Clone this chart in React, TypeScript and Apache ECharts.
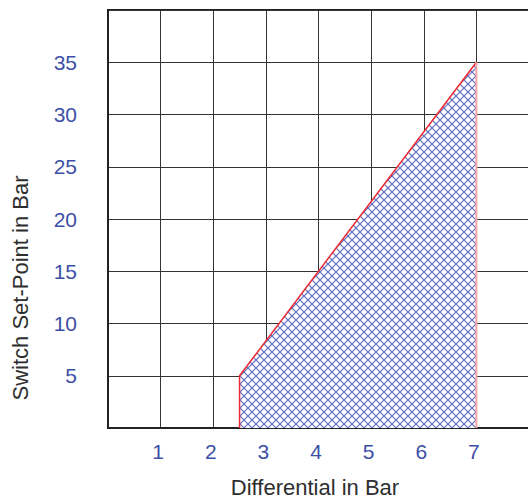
import React, { useEffect, useRef } from "react";
import * as echarts from "echarts";

const xTicks = [1, 2, 3, 4, 5, 6, 7];
const yTicks = [5, 10, 15, 20, 25, 30, 35];
const regionFill: number[][] = [[2.5, 0], [2.5, 5], [7, 35], [7, 0]];
const regionEdge: number[][] = [[2.5, 0], [2.5, 5], [7, 35]];
const regionRightEdge: number[][] = [[7, 35], [7, 0]];

const FONT = "'Liberation Sans', Arial, sans-serif";
const LABEL_BLUE = "#3d4fa6";
const TITLE_GRAY = "#2e2e2e";

function makeHatch(): string {
  const s = 8;
  const c = document.createElement("canvas");
  c.width = s;
  c.height = s;
  const ctx = c.getContext("2d")!;
  ctx.fillStyle = "#ffffff";
  ctx.fillRect(0, 0, s, s);
  ctx.strokeStyle = "rgba(62,82,178,0.85)";
  ctx.lineWidth = 1.2;
  ctx.beginPath();
  ctx.moveTo(-1, -1);
  ctx.lineTo(s + 1, s + 1);
  ctx.moveTo(-1, s + 1);
  ctx.lineTo(s + 1, -1);
  ctx.stroke();
  return c.toDataURL();
}

export default function App() {
  const ref = useRef<HTMLDivElement>(null);
  useEffect(() => {
    if (!ref.current) return;
    const chart = echarts.init(ref.current, undefined, { renderer: "svg" });
    const hatch = makeHatch();
    chart.setOption({
      animation: false,
      grid: {
        left: 108,
        top: 10,
        width: 421,
        height: 418,
        outerBoundsMode: "none",
        containLabel: false,
        show: true,
        borderColor: "#222",
        borderWidth: 2,
        backgroundColor: "transparent",
      },
      xAxis: {
        type: "value",
        min: 0,
        max: 8,
        interval: 1,
        axisLine: { show: true, onZero: false, lineStyle: { color: "#222", width: 2 } },
        axisTick: { show: false },
        splitLine: { show: true, lineStyle: { color: "#333", width: 1 } },
        axisLabel: {
          margin: 13,
          color: LABEL_BLUE,
          fontSize: 21,
          fontFamily: FONT,
          padding: [0, 5, 0, 0],
          formatter: (v: number) => (xTicks.includes(v) ? String(v) : ""),
        },
      },
      yAxis: {
        type: "value",
        min: 0,
        max: 40,
        interval: 5,
        axisLine: { show: true, lineStyle: { color: "#222", width: 2 } },
        axisTick: { show: false },
        splitLine: { show: true, lineStyle: { color: "#333", width: 1 } },
        axisLabel: {
          margin: 31,
          color: LABEL_BLUE,
          fontSize: 21,
          fontFamily: FONT,
          formatter: (v: number) => (yTicks.includes(v) ? String(v) : ""),
        },
      },
      graphic: [
        {
          type: "text",
          x: 315,
          y: 487,
          style: {
            text: "Differential in Bar",
            fill: TITLE_GRAY,
            font: `22px ${FONT}`,
            align: "center",
            verticalAlign: "middle",
          },
        },
        {
          type: "text",
          x: 20,
          y: 288,
          rotation: Math.PI / 2,
          style: {
            text: "Switch Set-Point in Bar",
            fill: TITLE_GRAY,
            font: `22px ${FONT}`,
            align: "center",
            verticalAlign: "middle",
          },
        },
      ],
      series: [
        {
          type: "line",
          data: regionFill,
          symbol: "none",
          lineStyle: { width: 0, opacity: 0 },
          areaStyle: {
            color: { image: hatch, repeat: "repeat", imageWidth: 8, imageHeight: 8 },
            opacity: 1,
          },
          z: 1,
        },
        {
          type: "line",
          data: regionEdge,
          symbol: "none",
          lineStyle: { color: "#ee2a30", width: 1.5 },
          z: 3,
        },
        {
          type: "line",
          data: regionRightEdge,
          symbol: "none",
          lineStyle: { color: "#f4a3a8", width: 2 },
          z: 3,
        },
      ],
    });
    return () => chart.dispose();
  }, []);
  return (
    <div
      ref={ref}
      style={{ position: "absolute", left: 0, top: 0, width: 528, height: 499 }}
    />
  );
}
